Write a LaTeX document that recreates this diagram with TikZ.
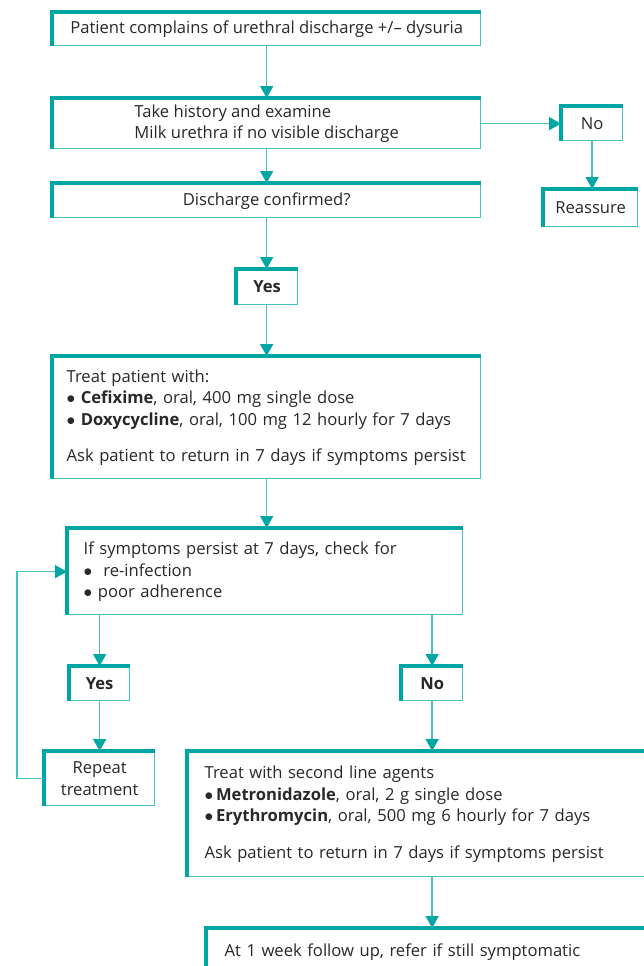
\documentclass[tikz,border=0pt]{standalone}
\usepackage{fontspec}
\setmainfont{Open Sans}
\usepackage{xcolor}
\usetikzlibrary{arrows.meta}

\definecolor{flowteal}{RGB}{0,166,163}
\definecolor{flowline}{RGB}{70,194,194}
\definecolor{flowtext}{RGB}{40,40,40}

\newcommand{\bul}{$\bullet$}
\newcommand{\boxfont}{\fontsize{16.6}{21.5}\selectfont\hyphenpenalty=10000\relax}

\tikzset{
  box/.style={rectangle, draw=flowline, line width=1.3pt, fill=white,
    anchor=north west, inner sep=0pt, text=flowtext, font=\boxfont},
  boxedge/.style={draw=flowteal, line width=4pt},
  flow/.style={draw=flowline, line width=1.5pt,
    -{Triangle[width=13pt,length=12pt,color=flowteal]}},
}

\begin{document}
\begin{tikzpicture}[x=1pt,y=-1pt]
                \useasboundingbox (0,0) rectangle (644,966);
                \clip (0,0) rectangle (644,966);

                % main column
                \node[box, minimum width=428, minimum height=33] (b1) at (52,12)
                    {Patient complains of urethral discharge +/– dysuria};
                \node[box, minimum width=428, minimum height=50, align=left] (b2) at (52,98)
                    {Take history and examine\\Milk urethra if no visible discharge};
                \node[box, minimum width=428, minimum height=34] (b3) at (52,183)
                    {Discharge confirmed?};
                \node[box, minimum width=61, minimum height=35] (yes1) at (236,269)
                    {\textbf{Yes}};
                \node[box, minimum width=428, minimum height=122, text width=400, align=left] (b4) at (52,356)
                    {Treat patient with:\\
                     \bul\ \textbf{Cefixime}, oral, 400 mg single dose\\
                     \bul\ \textbf{Doxycycline}, oral, 100 mg 12 hourly for 7 days\\[15pt]
                     Ask patient to return in 7 days if symptoms persist};

                % side branch
                \node[box, minimum width=61, minimum height=34] (no1) at (561,106) {No};
                \node[box, minimum width=94, minimum height=37] (reas) at (543,189) {Reassure};

                % follow up
                \node[box, minimum width=395, minimum height=86, text width=363, align=left] (b5) at (67,528)
                    {If symptoms persist at 7 days, check for\\
                     \bul\ \ re-infection\\
                     \bul\ poor adherence};
                \node[box, minimum width=60, minimum height=34] (yes2) at (69,666) {\textbf{Yes}};
                \node[box, minimum width=61, minimum height=34] (no2) at (401,666) {\textbf{No}};
                \node[box, minimum width=110, minimum height=54, align=center] (rep) at (44,751)
                    {Repeat\\treatment};
                \node[box, minimum width=480, minimum height=125, text width=446, align=left] (b6) at (187,751)
                    {Treat with second line agents\\
                     \bul\,\textbf{Metronidazole}, oral, 2 g single dose\\
                     \bul\,\textbf{Erythromycin}, oral, 500 mg 6 hourly for 7 days\\[15pt]
                     Ask patient to return in 7 days if symptoms persist};
                \node[box, minimum width=460, minimum height=46, text width=424, align=left] (b7) at (206,928)
                    {At 1 week follow up, refer if still symptomatic};

                % heavy top and left edges
                \foreach \n in {b1,b2,b3,yes1,b4,no1,reas,b5,yes2,no2,rep,b6,b7}
                    \draw[boxedge] (\n.south west) -- (\n.north west) -- (\n.north east);

                \draw[flow] (b1) -- (b2);
                \draw[flow] (b2) -- (b3);
                \draw[flow] (b2.east) -- (b2.east -| no1.west);
                \draw[flow] (no1.south) -- (no1.south |- reas.north);
                \draw[flow] (b3.south) -- (b3.south |- yes1.north);
                \draw[flow] (b3.south |- yes1.south) -- (b3.south |- b4.north);
                \draw[flow] (b4.south) -- (b4.south |- b5.north);
                \draw[flow] (yes2.north |- b5.south) -- (yes2.north);
                \draw[flow] (no2.north |- b5.south) -- (no2.north);
                \draw[flow] (yes2) -- (rep);
                \draw[flow] (no2.south) -- (no2.south |- b6.north);
                \draw[flow] (rep.west) -- ++(-27,0) |- (b5.west);
                \draw[flow] (no2.south |- b6.south) -- (no2.south |- b7.north);
            \end{tikzpicture}
\end{document}
